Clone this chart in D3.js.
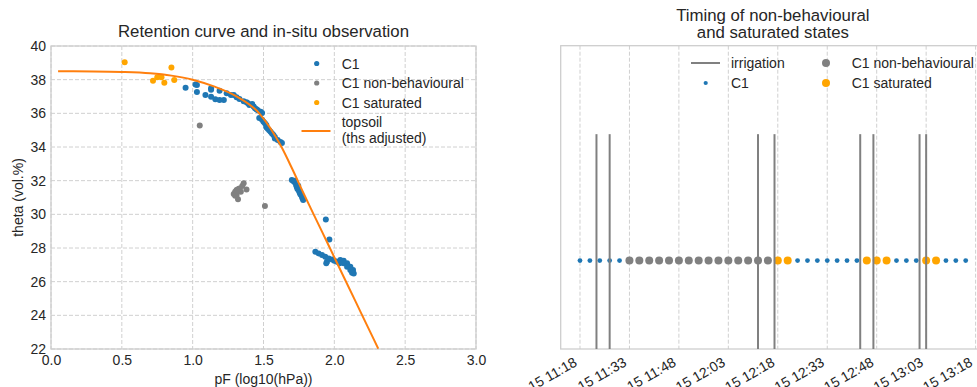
<!DOCTYPE html>
<html>
<head>
<meta charset="utf-8">
<script src="https://cdn.jsdelivr.net/npm/d3@7"></script>
<style>
  body { margin: 0; background: #fff; }
  svg { display: block; font-family: "Liberation Sans", Arial, sans-serif; }
</style>
</head>
<body>
<svg id="chart"></svg>
<script>
// ---- Retention curve data (pF, theta) ----
const c1PF = [0.95, 1.02, 1.03, 1.03, 1.09, 1.13, 1.13, 1.13, 1.16, 1.19, 1.19, 1.22, 1.24, 1.27, 1.29,
  1.31, 1.33, 1.36, 1.38, 1.39, 1.40, 1.42, 1.43, 1.44, 1.45, 1.46, 1.48, 1.49, 1.47, 1.49, 1.50, 1.51,
  1.52, 1.52, 1.53, 1.54, 1.55, 1.56, 1.57, 1.58, 1.58, 1.60, 1.62, 1.63,
  1.70, 1.71, 1.72, 1.72, 1.73, 1.735, 1.74, 1.745, 1.75, 1.755, 1.76, 1.77, 1.775, 1.78,
  1.94, 1.965,
  1.866, 1.889, 1.913, 1.936, 1.948, 1.943, 1.96, 1.984, 2.0, 2.019, 2.042, 2.066, 2.09, 2.113, 2.132,
  2.137, 2.037, 2.066, 2.09, 2.113, 2.125];
const c1Theta = [37.52, 37.72, 37.68, 37.27, 37.09, 37.49, 37.40, 36.99, 36.83, 37.34, 36.79, 36.79, 37.19, 37.09, 37.09,
  36.95, 36.85, 36.72, 36.66, 36.60, 36.50, 36.55, 36.40, 36.30, 36.24, 36.18, 36.10, 36.02, 35.72, 35.62, 35.50, 35.41,
  35.30, 35.18, 35.08, 35.00, 34.91, 34.80, 34.71, 34.60, 34.50, 34.42, 34.30, 34.24,
  32.04, 31.98, 31.90, 32.00, 31.75, 31.62, 31.50, 31.70, 31.40, 31.30, 31.20, 31.08, 30.95, 30.85,
  29.70, 28.51,
  27.78, 27.68, 27.58, 27.48, 27.18, 27.09, 27.38, 27.32, 27.25, 27.18, 27.28, 27.24, 27.09, 26.89, 26.69,
  26.49, 27.09, 27.09, 26.89, 26.69, 26.53];

const nonBehavPF = [1.05, 1.29, 1.30, 1.31, 1.31, 1.32, 1.32, 1.33, 1.33, 1.34, 1.35, 1.36, 1.38, 1.30, 1.51];
const nonBehavTheta = [35.27, 31.21, 31.34, 31.15, 31.44, 31.49, 30.89, 31.54, 31.40, 31.34, 31.68, 31.84, 31.48, 31.10, 30.49];

const satPF = [0.52, 0.72, 0.75, 0.78, 0.80, 0.85, 0.87];
const satTheta = [39.03, 37.94, 38.14, 38.14, 37.82, 38.73, 37.98];

// topsoil retention curve (ths adjusted)
const curvePF = [0.05, 0.3, 0.5, 0.7, 0.85, 1.0, 1.15, 1.3, 1.47, 1.55, 1.63, 1.70, 1.78, 1.854, 1.96, 2.07, 2.19, 2.31];
const curveTheta = [38.5, 38.49, 38.46, 38.38, 38.24, 38.0, 37.6, 37.05, 36.0, 35.1, 33.95, 32.75, 31.3, 30.0, 28.15, 26.22, 24.12, 22.02];

const pfTicks = [0.0, 0.5, 1.0, 1.5, 2.0, 2.5, 3.0];
const thetaTicks = [22, 24, 26, 28, 30, 32, 34, 36, 38, 40];

// ---- Timing data (15th, HH:MM) ----
const c1Times = ["11:18", "11:21", "11:24", "11:27", "11:30", "12:24", "12:27", "12:30", "12:33", "12:36",
  "12:39", "12:42", "12:54", "12:57", "13:00", "13:09", "13:12", "13:15"];
const nonBehavTimes = ["11:33", "11:36", "11:39", "11:42", "11:45", "11:48", "11:51", "11:54", "11:57",
  "12:00", "12:03", "12:06", "12:09", "12:12", "12:15"];
const satTimes = ["12:18", "12:21", "12:45", "12:48", "12:51", "13:03", "13:06"];
const irrigationTimes = ["11:23", "11:27", "12:12", "12:17", "12:43", "12:47", "13:01", "13:03"];
const timeTicks = ["11:18", "11:33", "11:48", "12:03", "12:18", "12:33", "12:48", "13:03", "13:18"];

const parseT = s => d3.timeParse("%Y-%m-%d %H:%M")("2021-07-15 " + s);

const W = 977, H = 387;
const textColor = "#262626", gridColor = "#d0d0d0", spineColor = "#cccccc";

const svg = d3.select("#chart").attr("width", W).attr("height", H);

// ================= Left panel =================
const L = { left: 51, right: 476, top: 46, bottom: 349 };
const x1 = d3.scaleLinear().domain([0, 3]).range([L.left, L.right]);
const y1 = d3.scaleLinear().domain([22, 40]).range([L.bottom, L.top]);

const g1 = svg.append("g");

svg.append("clipPath").attr("id", "clipL")
  .append("rect").attr("x", L.left).attr("y", L.top)
  .attr("width", L.right - L.left).attr("height", L.bottom - L.top);

// grid
g1.selectAll(".vgrid").data(pfTicks).enter().append("line")
  .attr("x1", d => x1(d)).attr("x2", d => x1(d))
  .attr("y1", L.top).attr("y2", L.bottom)
  .attr("stroke", gridColor).attr("stroke-dasharray", "4,2");
g1.selectAll(".hgrid").data(thetaTicks).enter().append("line")
  .attr("x1", L.left).attr("x2", L.right)
  .attr("y1", d => y1(d)).attr("y2", d => y1(d))
  .attr("stroke", gridColor).attr("stroke-dasharray", "4,2");

// axes
const ax1 = g1.append("g").attr("transform", `translate(0,${L.bottom})`)
  .call(d3.axisBottom(x1).tickValues(pfTicks).tickFormat(d3.format(".1f")).tickSize(0).tickPadding(6));
const ay1 = g1.append("g").attr("transform", `translate(${L.left},0)`)
  .call(d3.axisLeft(y1).tickValues(thetaTicks).tickFormat(d3.format("d")).tickSize(0).tickPadding(5));
[ax1, ay1].forEach(a => {
  a.select(".domain").remove();
  a.selectAll("text").attr("fill", textColor).style("font-size", "14px")
    .style("font-family", "'Liberation Sans', Arial, sans-serif");
});

g1.append("rect").attr("x", L.left).attr("y", L.top)
  .attr("width", L.right - L.left).attr("height", L.bottom - L.top)
  .attr("fill", "none").attr("stroke", spineColor).attr("stroke-width", 1.25);

// scatter points
const plotPts = (pf, th, color) => {
  g1.append("g").selectAll("circle").data(pf.map((d, i) => [d, th[i]])).enter()
    .append("circle")
    .attr("cx", d => x1(d[0])).attr("cy", d => y1(d[1]))
    .attr("r", 3).attr("fill", color);
};
plotPts(c1PF, c1Theta, "#1f77b4");
plotPts(nonBehavPF, nonBehavTheta, "#808080");
plotPts(satPF, satTheta, "#ffa500");

// retention curve
const line1 = d3.line().x(d => x1(d[0])).y(d => y1(d[1])).curve(d3.curveMonotoneX);
g1.append("path").datum(curvePF.map((d, i) => [d, curveTheta[i]]))
  .attr("clip-path", "url(#clipL)")
  .attr("d", line1).attr("fill", "none")
  .attr("stroke", "#ff7f0e").attr("stroke-width", 2);

// titles & labels
g1.append("text").attr("x", (L.left + L.right) / 2).attr("y", 37)
  .attr("text-anchor", "middle").attr("fill", textColor).style("font-size", "16.8px")
  .text("Retention curve and in-situ observation");
g1.append("text").attr("x", (L.left + L.right) / 2).attr("y", 384)
  .attr("text-anchor", "middle").attr("fill", textColor).style("font-size", "14px")
  .text("pF (log10(hPa))");
g1.append("text").attr("transform", `translate(23,${(L.top + L.bottom) / 2}) rotate(-90)`)
  .attr("text-anchor", "middle").attr("fill", textColor).style("font-size", "14px")
  .text("theta (vol.%)");

// legend
const leg1 = [
  { label: "C1", color: "#1f77b4", y: 63.5 },
  { label: "C1 non-behavioural", color: "#808080", y: 83 },
  { label: "C1 saturated", color: "#ffa500", y: 102.5 }
];
leg1.forEach(d => {
  g1.append("circle").attr("cx", 316.7).attr("cy", d.y).attr("r", 2.6).attr("fill", d.color);
  g1.append("text").attr("x", 341.7).attr("y", d.y).attr("dy", "0.36em")
    .attr("fill", textColor).style("font-size", "14px").text(d.label);
});
g1.append("line").attr("x1", 301.5).attr("x2", 330.5).attr("y1", 131).attr("y2", 131)
  .attr("stroke", "#ff7f0e").attr("stroke-width", 2);
g1.append("text").attr("x", 341.7).attr("y", 122).attr("dy", "0.36em")
  .attr("fill", textColor).style("font-size", "14px").text("topsoil");
g1.append("text").attr("x", 341.7).attr("y", 138).attr("dy", "0.36em")
  .attr("fill", textColor).style("font-size", "14px").text("(ths adjusted)");

// ================= Right panel =================
const R = { left: 560.7, right: 985, top: 45.7, bottom: 349 };
const allTimes = [...c1Times, ...nonBehavTimes, ...satTimes, ...irrigationTimes].map(parseT);
const [tMin, tMax] = d3.extent(allTimes);
const pad = (tMax - tMin) * 0.05;
const x2 = d3.scaleTime().domain([new Date(+tMin - pad), new Date(+tMax + pad)]).range([R.left, R.right]);
const y2 = d3.scaleLinear().domain([-0.7, 1.7]).range([R.bottom, R.top]);

const g2 = svg.append("g");
const tickDates = timeTicks.map(parseT);

g2.selectAll(".vgrid").data(tickDates).enter().append("line")
  .attr("x1", d => x2(d)).attr("x2", d => x2(d))
  .attr("y1", R.top).attr("y2", R.bottom)
  .attr("stroke", gridColor).attr("stroke-dasharray", "4,2");

g2.append("rect").attr("x", R.left).attr("y", R.top)
  .attr("width", R.right - R.left).attr("height", R.bottom - R.top)
  .attr("fill", "none").attr("stroke", spineColor).attr("stroke-width", 1.25);

// rotated time labels
const fmt = d3.timeFormat("%d %H:%M");
g2.selectAll(".tlab").data(tickDates).enter().append("text")
  .attr("transform", d => `translate(${x2(d) - 2},${R.bottom + 16}) rotate(-30)`)
  .attr("text-anchor", "end").attr("fill", textColor).style("font-size", "14px")
  .text(d => fmt(d));

// dots
const dotRow = (times, r, color) => {
  g2.append("g").selectAll("circle").data(times.map(parseT)).enter().append("circle")
    .attr("cx", d => x2(d)).attr("cy", y2(0)).attr("r", r).attr("fill", color);
};
dotRow(c1Times, 2.4, "#1f77b4");
dotRow(nonBehavTimes, 4, "#808080");
dotRow(satTimes, 4, "#ffa500");

// irrigation lines
g2.selectAll(".irr").data(irrigationTimes.map(parseT)).enter().append("line")
  .attr("x1", d => x2(d)).attr("x2", d => x2(d))
  .attr("y1", R.bottom).attr("y2", y2(1))
  .attr("stroke", "#808080").attr("stroke-width", 2);

// title
const cx2 = (R.left + R.right) / 2;
g2.append("text").attr("x", cx2).attr("y", 20.5).attr("text-anchor", "middle")
  .attr("fill", textColor).style("font-size", "16.8px").text("Timing of non-behavioural");
g2.append("text").attr("x", cx2).attr("y", 38).attr("text-anchor", "middle")
  .attr("fill", textColor).style("font-size", "16.8px").text("and saturated states");

// legend (two columns)
g2.append("line").attr("x1", 691).attr("x2", 720).attr("y1", 63).attr("y2", 63)
  .attr("stroke", "#808080").attr("stroke-width", 2);
g2.append("circle").attr("cx", 705.7).attr("cy", 83).attr("r", 2.1).attr("fill", "#1f77b4");
g2.append("circle").attr("cx", 826).attr("cy", 63).attr("r", 4).attr("fill", "#808080");
g2.append("circle").attr("cx", 826).attr("cy", 83).attr("r", 4).attr("fill", "#ffa500");
[["irrigation", 731, 63], ["C1", 731, 83], ["C1 non-behavioural", 851.7, 63], ["C1 saturated", 851.7, 83]]
  .forEach(d => {
    g2.append("text").attr("x", d[1]).attr("y", d[2]).attr("dy", "0.36em")
      .attr("fill", textColor).style("font-size", "14px").text(d[0]);
  });
</script>
</body>
</html>
